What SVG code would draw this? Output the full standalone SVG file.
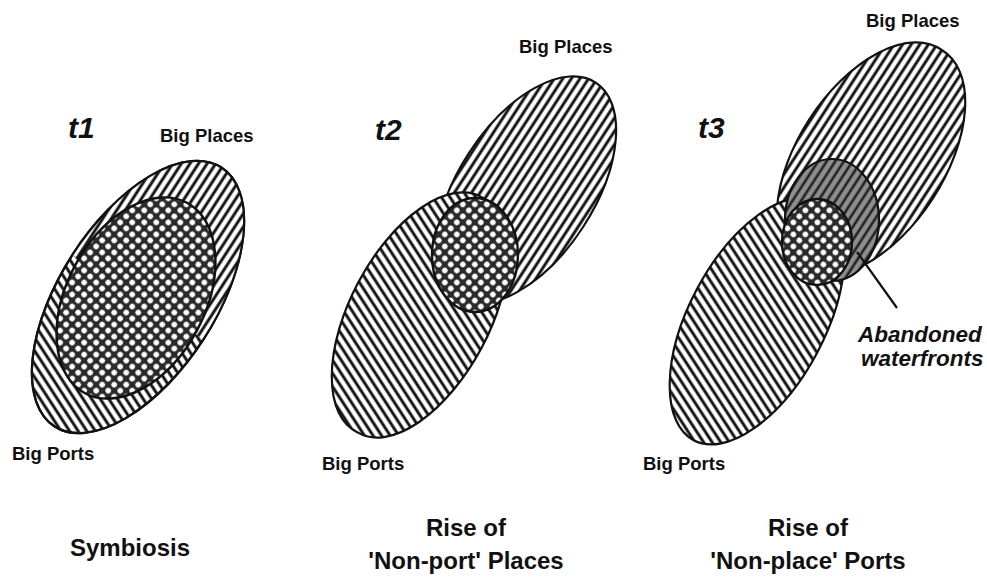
<svg xmlns="http://www.w3.org/2000/svg" width="987" height="581" viewBox="0 0 987 581">
<style>
  .lbl{font-family:"Liberation Sans",Arial,sans-serif;font-weight:bold;fill:#111}
  .t{font-family:"Liberation Sans",Arial,sans-serif;font-weight:bold;font-style:italic;font-size:30px;fill:#111}
  .sm{font-size:18.5px}
  .cap{font-size:24px;text-anchor:middle}
  .ab{font-family:"Liberation Sans",Arial,sans-serif;font-weight:bold;font-style:italic;font-size:22.5px;fill:#111}
  .edge{stroke:#111;stroke-width:2.2;fill:none}
  .fwd{fill:url(#hf);stroke:#111;stroke-width:2.2}
  .bwd{fill:url(#hb);stroke:#111;stroke-width:2.2}
  .dot{fill:url(#dots);stroke:#111;stroke-width:2.4}
  .gray{fill:url(#hg);stroke:#111;stroke-width:2.2}
</style>
<defs>
  <pattern id="hf" width="7.2" height="7.2" patternUnits="userSpaceOnUse" patternTransform="rotate(33)">
    <rect width="7.2" height="7.2" fill="#fff"/>
    <line x1="3.6" y1="-1" x2="3.6" y2="8.2" stroke="#111" stroke-width="2.9"/>
  </pattern>
  <pattern id="hb" width="7.2" height="7.2" patternUnits="userSpaceOnUse" patternTransform="rotate(-33)">
    <rect width="7.2" height="7.2" fill="#fff"/>
    <line x1="3.6" y1="-1" x2="3.6" y2="8.2" stroke="#111" stroke-width="2.9"/>
  </pattern>
  <pattern id="hg" width="7.2" height="7.2" patternUnits="userSpaceOnUse" patternTransform="rotate(33)">
    <rect width="7.2" height="7.2" fill="#8e8e8e"/>
    <line x1="3.6" y1="-1" x2="3.6" y2="8.2" stroke="#222" stroke-width="2.6"/>
  </pattern>
  <pattern id="dots" width="8.5" height="8.5" patternUnits="userSpaceOnUse" patternTransform="rotate(45)">
    <rect width="8.5" height="8.5" fill="#2a2a2a"/>
    <circle cx="4.25" cy="4.25" r="2.8" fill="#fff"/>
  </pattern>
</defs>

<g id="panel-t1">
  <g id="t1-big-ports">
    <path class="bwd" d="M221.4 167.5 A154 78 -57.2 1 0 54.6 426.5 A154 78 -57.2 1 0 221.4 167.5 Z"/>
  </g>
  <g id="t1-big-places">
    <path fill="url(#hf)" d="M72.4 254.7 A154 78 -57.2 0 1 203.6 339.3 Z"/>
    <path class="edge" d="M221.4 167.5 A154 78 -57.2 1 0 54.6 426.5 A154 78 -57.2 1 0 221.4 167.5 Z"/>
  </g>
  <g id="t1-overlap">
    <path class="dot" d="M187.0 202.8 A108 69 -61.8 1 0 85.0 393.2 A108 69 -61.8 1 0 187.0 202.8 Z"/>
  </g>
  <text class="t" x="68" y="138">t1</text>
  <text class="lbl sm" x="160" y="142">Big Places</text>
  <text class="lbl sm" x="12" y="460">Big Ports</text>
  <text class="lbl cap" x="130" y="556">Symbiosis</text>
</g>

<g id="panel-t2">
  <g id="t2-big-places">
    <path class="fwd" d="M595.7 82.6 A128 68 -57 1 0 456.3 297.4 A128 68 -57 1 0 595.7 82.6 Z"/>
  </g>
  <g id="t2-big-ports">
    <path class="bwd" d="M482.4 197.6 A133 68 -62 1 0 357.6 432.4 A133 68 -62 1 0 482.4 197.6 Z"/>
  </g>
  <g id="t2-overlap">
    <ellipse class="dot" cx="475" cy="255" rx="43" ry="57"/>
  </g>
  <text class="t" x="375" y="140">t2</text>
  <text class="lbl sm" x="519" y="53">Big Places</text>
  <text class="lbl sm" x="322" y="470">Big Ports</text>
  <text class="lbl cap" x="466" y="536">Rise of</text>
  <text class="lbl cap" x="466" y="569">'Non-port' Places</text>
</g>

<g id="panel-t3">
  <g id="t3-big-places">
    <path class="fwd" d="M941.8 50.0 A130 72 -57 1 0 800.2 268.0 A130 72 -57 1 0 941.8 50.0 Z"/>
  </g>
  <g id="t3-big-ports">
    <path class="bwd" d="M820.4 201.8 A135 68 -62 1 0 693.6 440.2 A135 68 -62 1 0 820.4 201.8 Z"/>
  </g>
  <g id="t3-abandoned">
    <ellipse class="gray" cx="832" cy="220" rx="47" ry="61"/>
  </g>
  <g id="t3-overlap">
    <ellipse class="dot" cx="817" cy="242" rx="35" ry="43"/>
  </g>
  <text class="t" x="698" y="138">t3</text>
  <text class="lbl sm" x="866" y="27">Big Places</text>
  <text class="lbl sm" x="643" y="470">Big Ports</text>
  <text class="ab" x="858" y="342">Abandoned</text>
  <text class="ab" x="861" y="366">waterfronts</text>
  <text class="lbl cap" x="808" y="536">Rise of</text>
  <text class="lbl cap" x="808" y="569">'Non-place' Ports</text>
</g>

<g id="connectors">
  <line x1="857" y1="252" x2="897" y2="308" stroke="#111" stroke-width="2.2"/>
</g>
</svg>
